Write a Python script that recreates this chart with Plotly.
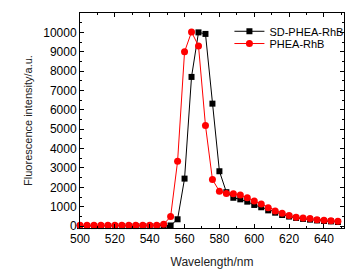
import plotly.graph_objects as go

wavelength_sd = [500, 504, 508, 512, 516, 520, 524, 528, 532, 536, 540, 544, 548,
                 552, 556, 560, 564, 568, 572, 576, 580, 584, 588, 592, 596, 600,
                 604, 608, 612, 616, 620, 624, 628, 632, 636, 640, 644, 648]
intensity_sd = [0, 0, 0, 0, 0, 0, 0, 0, 0, 0, 0, 0, 10,
                30, 350, 2450, 7700, 10000, 9920, 6320, 2830, 1750, 1460, 1380, 1260, 1090,
                970, 810, 690, 570, 490, 420, 370, 330, 290, 260, 240, 210]

wavelength_ph = [500, 504, 508, 512, 516, 520, 524, 528, 532, 536, 540, 544, 548,
                 552, 556, 560, 564, 568, 572, 576, 580, 584, 588, 592, 596, 600,
                 604, 608, 612, 616, 620, 624, 628, 632, 636, 640, 644, 648]
intensity_ph = [40, 40, 40, 40, 40, 40, 40, 40, 40, 40, 40, 40, 90,
                490, 3340, 9000, 10020, 9300, 5190, 2400, 1800, 1680, 1670, 1600, 1460, 1300,
                1140, 950, 780, 660, 540, 450, 420, 385, 330, 300, 280, 250]

series_names = ["SD-PHEA-RhB", "PHEA-RhB"]
x_ticks = [500, 520, 540, 560, 580, 600, 620, 640]
y_ticks = [0, 1000, 2000, 3000, 4000, 5000, 6000, 7000, 8000, 9000, 10000, 11000]

font_family = "Liberation Sans, Arial, sans-serif"

fig = go.Figure()
fig.add_trace(go.Scatter(
    x=wavelength_sd, y=intensity_sd, name=series_names[0], mode="lines+markers",
    line=dict(color="#000000", width=1),
    marker=dict(symbol="square", size=6, color="#000000"),
    cliponaxis=False, legend="legend",
))
fig.add_trace(go.Scatter(
    x=wavelength_ph, y=intensity_ph, name=series_names[1], mode="lines+markers",
    line=dict(color="#ff0000", width=1),
    marker=dict(symbol="circle", size=7, color="#ff0000"),
    cliponaxis=False, legend="legend2",
))

axis_common = dict(
    showline=True, linecolor="#000000", linewidth=1, mirror="ticks",
    ticks="inside", ticklen=4, tickwidth=1, tickcolor="#000000",
    showgrid=False, zeroline=False,
    tickfont=dict(family=font_family, size=12, color="#000000"),
)

fig.update_xaxes(
    range=[500, 651.5], tickvals=x_ticks, ticktext=[str(v) for v in x_ticks],
    minor=dict(ticks="inside", ticklen=2, dtick=10, tick0=500, tickcolor="#000000"),
    title=dict(text="Wavelength/nm", font=dict(family=font_family, size=12, color="#222222"), standoff=12),
    **axis_common,
)
fig.update_yaxes(
    range=[-100, 11000], tickvals=y_ticks, ticktext=[str(v) for v in y_ticks],
    minor=dict(ticks="inside", ticklen=2, dtick=500, tick0=0, tickcolor="#000000"),
    title=dict(text="Fluorescence intensity/a.u.", font=dict(family=font_family, size=11, color="#222222"), standoff=8),
    **axis_common,
)

legend_style = dict(
    xanchor="left", yanchor="middle",
    bgcolor="rgba(0,0,0,0)", borderwidth=0,
    font=dict(family=font_family, size=11, color="#000000"),
    itemwidth=30,
)

fig.update_layout(
    width=346, height=266,
    margin=dict(l=72, r=10, t=5, b=46),
    paper_bgcolor="#ffffff", plot_bgcolor="#ffffff",
    showlegend=True,
    legend=dict(x=0.566, y=0.915, **legend_style),
    legend2=dict(x=0.566, y=0.858, **legend_style),
)

fig.write_html("out.html")
